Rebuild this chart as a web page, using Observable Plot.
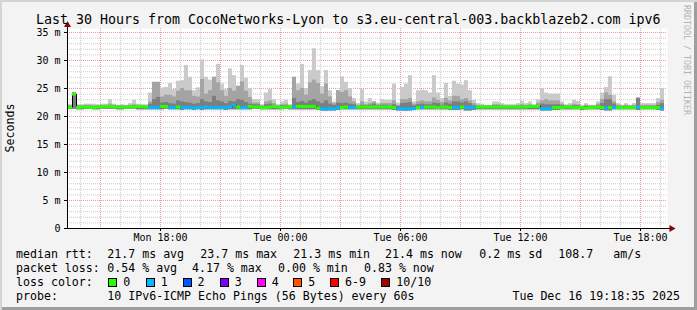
<!DOCTYPE html>
<html><head><meta charset="utf-8">
<script src="https://cdn.jsdelivr.net/npm/d3@7"></script>
<script src="https://cdn.jsdelivr.net/npm/@observablehq/plot@0.6"></script>
<style>
html,body{margin:0;padding:0;background:#fff}
#chart{position:relative;width:697px;height:310px;background:#f3f3f3;box-shadow:inset 2px 2px 0 #d4d4d4, inset -3px -3px 0 #9e9e9e;font-family:"DejaVu Sans Mono",monospace;color:#000;overflow:hidden}
.t{position:absolute;white-space:pre;line-height:1}
#plot{position:absolute;left:0;top:0}
.sw{position:absolute;width:9px;height:9px;box-sizing:border-box;border:1px solid #000}
</style></head><body>
<div id="chart"><div id="plot"></div></div>
<script>
// ---- data: one value per 12-minute bin, first bin starts Mon 13:24 ----
const maxMs = [
22.1,24.3,22.1,22.1,22.2,22.2,22.2,22.1,22.2,22.2,
23.0,22.2,22.0,22.1,22.0,22.3,22.9,22.2,22.1,22.1,
24.2,26.1,26.1,25.1,25.2,25.9,24.8,26.3,26.4,29.1,
27.0,24.6,25.1,30.1,27.0,26.5,27.0,29.3,25.8,24.8,
28.5,27.3,25.4,29.1,26.8,25.0,23.0,23.0,22.1,24.2,
24.8,23.0,22.1,22.6,22.9,22.1,27.0,25.8,29.3,25.0,
28.2,32.1,28.2,25.3,28.2,24.6,22.6,24.6,27.1,26.1,
25.0,23.2,22.3,24.8,22.6,23.2,22.6,22.4,23.0,22.9,
22.9,25.8,22.4,25.2,25.8,27.3,22.6,24.6,24.7,24.6,
24.2,27.3,24.2,23.2,25.9,23.6,26.3,25.8,25.6,26.4,
24.6,22.9,22.3,22.2,22.0,22.0,22.6,22.6,22.3,22.1,
22.1,22.1,22.3,22.7,22.3,22.6,22.1,23.0,25.0,24.2,
24.0,24.0,24.0,22.6,22.1,22.3,22.9,22.7,22.0,22.3,
22.0,22.0,22.6,24.2,25.2,27.1,23.8,22.3,22.0,22.3,
22.0,22.3,23.3,22.3,22.3,22.3,22.3,23.2,25.0];
const midMs = [
21.9,24.2,21.9,21.9,22.0,22.0,21.9,21.9,22.0,22.0,
22.2,22.0,21.9,21.9,21.9,22.0,22.1,22.0,21.9,21.9,
22.6,26.1,26.1,23.5,23.8,23.8,23.5,24.5,25.0,24.6,
24.6,23.6,23.5,26.6,24.0,24.6,27.0,26.0,24.6,23.6,
25.0,24.5,25.4,26.2,24.5,23.4,22.4,22.4,21.9,22.6,
22.8,22.3,21.9,22.1,22.2,21.9,27.0,24.6,25.0,23.8,
26.0,26.5,25.9,24.0,25.8,23.5,22.3,24.6,24.3,24.6,
23.5,22.6,22.0,22.6,22.1,22.3,22.6,22.1,22.3,22.3,
22.3,22.8,22.0,23.0,23.0,23.2,22.2,22.6,22.8,22.6,
22.6,23.3,22.9,22.5,23.2,22.8,23.6,23.6,23.0,23.2,
22.8,22.3,22.0,21.9,21.9,21.9,22.1,22.1,22.0,21.9,
21.9,21.9,22.0,22.1,22.0,22.1,21.9,22.4,22.8,23.0,
22.8,22.8,22.8,22.2,21.9,22.0,22.2,22.1,21.8,22.0,
21.9,21.9,22.2,23.0,24.2,23.8,22.6,22.0,21.9,22.0,
21.9,22.0,23.3,22.0,22.0,22.0,22.0,22.5,22.9];
const darkMs = [
21.8,24.2,21.8,21.8,21.8,21.8,21.8,21.8,21.8,21.8,
21.9,21.8,21.8,21.8,21.8,21.8,21.9,21.8,21.8,21.8,
22.2,23.0,23.4,22.4,22.5,22.3,22.2,22.8,22.6,22.5,
22.4,22.2,22.3,23.0,22.6,22.5,23.6,22.8,22.6,22.3,
22.7,22.6,23.0,22.9,22.5,22.2,22.1,22.1,21.8,22.1,
22.2,22.0,21.8,21.9,21.9,21.8,23.2,22.5,22.7,22.4,
22.8,23.0,22.6,22.3,22.8,22.2,22.0,22.4,22.3,22.4,
22.2,22.1,21.8,22.0,21.9,22.0,22.2,21.9,22.0,22.0,
21.9,22.1,21.8,22.3,22.4,22.5,21.9,22.1,22.2,22.1,
22.1,22.4,22.3,22.0,22.4,22.2,22.6,22.6,22.4,22.6,
22.3,21.9,21.8,21.8,21.8,21.8,21.9,21.9,21.8,21.8,
21.8,21.8,21.8,21.9,21.8,21.9,21.8,22.0,22.2,22.1,
22.1,22.1,22.1,21.9,21.8,21.8,21.9,21.9,21.7,21.8,
21.8,21.8,21.9,22.3,23.0,23.0,22.2,21.8,21.8,21.8,
21.8,21.8,23.2,21.8,21.8,21.8,21.8,22.0,22.3];
const minMs = [
21.3,21.3,21.2,21.2,21.3,21.3,21.2,21.2,21.3,21.3,
21.3,21.3,21.2,21.2,21.3,21.3,21.3,21.2,21.2,21.2,
21.2,21.2,21.2,21.2,21.3,21.2,21.2,21.2,21.1,21.2,
21.2,21.1,21.2,21.1,21.2,21.2,21.2,21.2,21.2,21.1,
21.2,21.2,21.2,21.2,21.2,21.2,21.3,21.3,21.2,21.2,
21.2,21.2,21.2,21.2,21.3,21.2,21.2,21.2,21.2,21.2,
21.2,21.2,21.1,21.0,21.0,21.0,21.0,21.1,21.2,21.2,
21.2,21.2,21.2,21.2,21.2,21.2,21.2,21.2,21.2,21.2,
21.2,21.1,21.0,21.0,21.0,21.0,21.1,21.2,21.2,21.2,
21.2,21.2,21.2,21.2,21.2,21.1,21.1,21.1,21.2,21.0,
21.0,21.1,21.2,21.2,21.2,21.2,21.2,21.2,21.2,21.2,
21.2,21.2,21.2,21.2,21.2,21.2,21.2,21.2,21.0,21.0,
21.0,21.1,21.1,21.2,21.2,21.2,21.2,21.2,21.1,21.2,
21.2,21.2,21.2,21.1,21.0,21.0,21.2,21.2,21.2,21.2,
21.2,21.2,21.1,21.2,21.2,21.2,21.2,21.1,21.0];
const medMs = [
21.7,24.0,21.6,21.7,21.7,21.6,21.6,21.7,21.7,21.8,
21.8,21.7,21.7,21.7,21.6,21.7,21.7,21.8,21.8,21.7,
21.6,21.6,21.6,21.8,21.8,21.6,21.6,21.7,21.6,21.6,
21.6,21.5,21.6,21.6,21.7,21.6,21.6,21.6,21.6,21.6,
21.7,22.0,21.7,21.6,21.6,21.8,21.7,21.7,21.6,21.6,
21.7,21.8,21.7,21.6,21.7,21.7,21.7,21.8,21.8,21.8,
21.8,21.8,21.5,21.4,21.3,21.4,21.4,21.5,21.6,21.7,
21.6,21.6,21.7,21.7,21.7,21.7,21.7,21.7,21.7,21.7,
21.7,21.6,21.4,21.4,21.3,21.4,21.4,21.6,21.6,21.7,
21.7,21.7,21.6,21.7,21.7,21.6,21.6,21.6,21.7,21.6,
21.6,21.6,21.7,21.7,21.7,21.7,21.7,21.7,21.7,21.7,
21.7,21.7,21.7,21.7,21.7,21.8,21.8,21.8,21.4,21.4,
21.4,21.6,21.6,21.6,21.7,21.7,21.6,21.6,21.6,21.5,
21.6,21.6,21.7,21.6,21.5,21.6,21.6,21.6,21.6,21.6,
21.6,21.6,21.7,21.6,21.6,21.6,21.6,21.6,21.4];
const lossIdx = [
0,0,0,0,0,0,0,0,0,0,
0,0,0,0,0,0,0,0,0,0,
1,1,1,0,0,1,1,0,1,1,
1,1,1,1,1,1,1,1,1,1,
1,1,0,1,1,0,0,0,0,0,
0,0,0,0,0,0,1,0,0,0,
0,0,0,1,1,1,1,1,0,0,
1,1,0,0,0,0,0,0,0,0,
0,0,1,1,1,1,1,0,1,0,
0,0,0,0,0,0,1,1,0,1,
1,1,0,0,0,0,0,0,0,0,
0,0,0,0,0,0,0,0,1,1,
1,0,0,0,0,0,0,0,0,0,
0,0,0,0,1,0,1,0,0,0,
0,0,1,0,0,0,0,0,1];

const lossLabels = ["0","1","2","3","4","5","6-9","10/10"];
const lossColors = ["#26ff00","#00b8ff","#0059ff","#7e00ff","#ff00ff","#ff5500","#ff0000","#a10000"];
const yTicks = [0,5,10,15,20,25,30,35];
const xTickLabels = ["Mon 18:00","Tue 00:00","Tue 06:00","Tue 12:00","Tue 18:00"];
const titleText = "Last 30 Hours from CocoNetworks-Lyon to s3.eu-central-003.backblazeb2.com ipv6";
const rttStats = ["21.7 ms avg","23.7 ms max","21.3 ms min","21.4 ms now","0.2 ms sd","108.7","am/s"];
const lossStats = ["0.54 % avg","4.17 % max","0.00 % min","0.83 % now"];
const probeText = "10 IPv6-ICMP Echo Pings (56 Bytes) every 60s";
const stampText = "Tue Dec 16 19:18:35 2025";

// ---- time frame ----
const MIN = 60000;
const tStart = new Date(2025, 11, 15, 13, 21);
const tEnd = new Date(2025, 11, 16, 19, 21);
const binStart = new Date(2025, 11, 15, 13, 24);
const binMinutes = 12;
const data = maxMs.map((v, i) => ({
  t1: new Date(+binStart + i * binMinutes * MIN),
  t2: new Date(+binStart + (i + 1) * binMinutes * MIN),
  max: v, mid: midMs[i], dark: darkMs[i], min: minMs[i], med: medMs[i], loss: lossIdx[i]
}));
const hours = d3.timeHour.range(new Date(+tStart + MIN), tEnd);
const hMinor = hours.filter(d => d.getHours() % 3 !== 0);
const hMajor = hours.filter(d => d.getHours() % 3 === 0);
const hLabel = hours.filter(d => d.getHours() % 6 === 0);
const yMinor = d3.range(1, 36).filter(v => v % 5 !== 0);
const yMajor = yTicks.filter(v => v > 0);
const fmt = d3.timeFormat("%a %H:%M");

const plot = Plot.plot({
  width: 697, height: 250,
  marginTop: 28, marginBottom: 22, marginLeft: 67, marginRight: 30,
  style: {background: "transparent", fontFamily: "DejaVu Sans Mono", fontSize: "10px", color: "#000"},
  x: {type: "time", domain: [tStart, tEnd]},
  y: {domain: [0, 35.714]},
  marks: [
    Plot.frame({fill: "white", stroke: "none"}),
    Plot.ruleY(yMinor, {stroke: "#cccccc", strokeDasharray: "1,1"}),
    Plot.ruleX(hMinor, {stroke: "#cccccc", strokeDasharray: "1,1"}),
    Plot.ruleY(yMajor, {stroke: "#eb9b9b", strokeDasharray: "1,1"}),
    Plot.ruleX(hMajor, {stroke: "#eb9b9b", strokeDasharray: "1,1"}),
    Plot.rectY(data, {x1: "t1", x2: "t2", y1: "min", y2: "max", fill: "#cacaca"}),
    Plot.rectY(data, {x1: "t1", x2: "t2", y1: "min", y2: "mid", fill: "#a4a4a4"}),
    Plot.rectY(data, {x1: "t1", x2: "t2", y1: "min", y2: "dark", fill: "#7e7e7e"}),
    Plot.line(data, {x: "t1", y: "med", curve: "step-after", stroke: "#000", strokeWidth: 1}),
    Plot.ruleY(data, {x1: "t1", x2: "t2", y: "med", stroke: d => lossColors[d.loss], strokeWidth: 3}),
    Plot.axisY(yTicks, {tickSize: 3, tickPadding: 4, tickFormat: d => d === 0 ? "0" : d + " m", label: null, fontSize: 10}),
    Plot.axisX(hLabel, {tickSize: 3, tickPadding: 2, tickFormat: d => xTickLabels[hLabel.indexOf(d)] ?? fmt(d), label: null, fontSize: 10}),
    Plot.ruleY([0], {x1: tStart, x2: new Date(+tEnd + 9 * MIN), stroke: "#000"}),
    Plot.ruleX([tStart], {y1: 0, y2: 36.6, stroke: "#000"}),
    Plot.dot([0], {x: () => tStart, y: () => 36.35, symbol: "triangle", r: 2.6, fill: "#8b0000", stroke: "none"}),
    Plot.dot([0], {x: () => new Date(+tEnd + 12 * MIN), y: () => 0, symbol: "triangle", r: 2.6, fill: "#8b0000", stroke: "none", rotate: 90})
  ]
});
document.getElementById("plot").appendChild(plot);

// ---- text (title, labels, legend) ----
const chart = document.getElementById("chart");
function txt(s, x, base, fs, extra = {}) {
  const e = document.createElement("div");
  e.className = "t";
  e.textContent = s;
  e.style.fontSize = fs + "px";
  e.style.left = x + "px";
  e.style.top = (base - 0.846 * fs) + "px";
  Object.assign(e.style, extra);
  chart.appendChild(e);
  return e;
}
txt(titleText, 36, 24, 13.3);
txt("Seconds", 0, 0, 11.6, {left: "11px", top: "127.5px", transform: "translate(-50%,-50%) rotate(-90deg)"});
txt("RRDTOOL / TOBI OETIKER", 0, 0, 8.3, {left: "687px", top: "60px", color: "#b4b4b4", transform: "translate(-50%,-50%) rotate(90deg)"});

const fsL = 11.6;
const rttX = [107.3, 200.3, 293.3, 385, 479.3, 558.3, 613.3];
txt("median rtt:", 16, 258.5, fsL);
rttStats.forEach((s, i) => txt(s, rttX[i], 258.5, fsL));
const lossX = [107.3, 192, 278, 364];
txt("packet loss:", 16, 272.5, fsL);
lossStats.forEach((s, i) => txt(s, lossX[i], 272.5, fsL));
txt("loss color:", 16, 286.5, fsL);
const swX = [108.3, 145.7, 182.5, 219.7, 256.7, 293.3, 330, 381.3];
lossLabels.forEach((s, i) => {
  const b = document.createElement("div");
  b.className = "sw";
  b.style.left = swX[i] + "px";
  b.style.top = "278px";
  b.style.background = lossColors[i];
  chart.appendChild(b);
  txt(s, swX[i] + 15, 286.5, fsL);
});
txt("probe:", 16, 300.5, fsL);
txt(probeText, 107.3, 300.5, fsL);
const st = txt(stampText, 0, 300.5, fsL);
st.style.left = (680 - st.getBoundingClientRect().width) + "px";
</script>
</body></html>
